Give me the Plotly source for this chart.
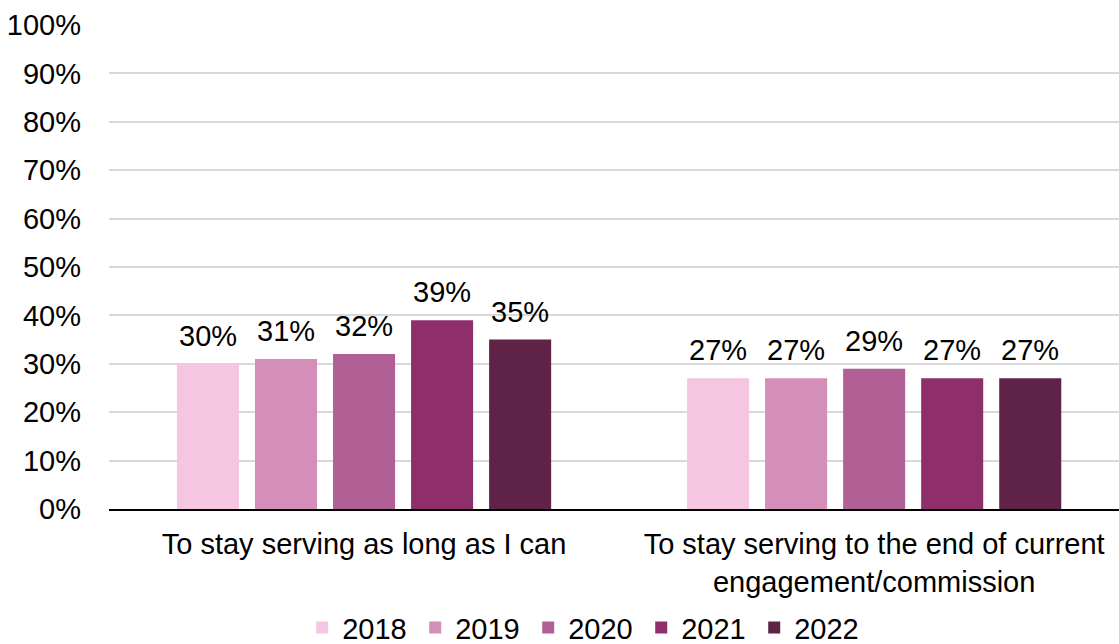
import plotly.graph_objects as go

categories = [
    "To stay serving as long as I can",
    "To stay serving to the end of current<br>engagement/commission",
]
years = ["2018", "2019", "2020", "2021", "2022"]
values = {
    "2018": [30, 27],
    "2019": [31, 27],
    "2020": [32, 29],
    "2021": [39, 27],
    "2022": [35, 27],
}
colors = ["#F5C6E2", "#D48FB8", "#B06094", "#8E2F6C", "#5E2347"]
y_ticks = list(range(0, 101, 10))

FONT = "Liberation Sans, Arial, sans-serif"
FS = 29

# grouped-bar geometry (pixels): slot pitch of one bar within a group
SLOT_PX = 78

fig = go.Figure()
for yr, col in zip(years, colors):
    fig.add_trace(go.Bar(
        name=yr,
        x=categories,
        y=values[yr],
        marker=dict(color=col, line=dict(width=0)),
        hoverinfo="x+y+name",
    ))

# value labels above each bar, lifted a little off the bar top
n = len(years)
for i, yr in enumerate(years):
    for cat, v in zip(categories, values[yr]):
        fig.add_annotation(
            x=cat, y=v, xref="x", yref="y",
            text=f"{v}%",
            showarrow=False,
            xanchor="center", yanchor="bottom",
            xshift=(i - (n - 1) / 2) * SLOT_PX,
            yshift=10,
            font=dict(family=FONT, size=FS, color="#000000"),
        )

fig.update_layout(
    width=1119,
    height=644,
    margin=dict(l=109, r=0, t=25, b=135, autoexpand=False),
    paper_bgcolor="white",
    plot_bgcolor="white",
    barmode="group",
    bargap=0.235,
    bargroupgap=0.205,
    font=dict(family=FONT, size=FS, color="#000000"),
    showlegend=True,
    legend=dict(
        orientation="h",
        x=0.471, xanchor="center",
        y=-0.245, yanchor="middle",
        font=dict(family=FONT, size=FS, color="#000000"),
        entrywidth=68,
        entrywidthmode="pixels",
        itemwidth=30,
        traceorder="normal",
    ),
    xaxis=dict(
        type="category",
        range=[-0.5, 1.48],
        automargin=False,
        showline=True,
        linecolor="#000000",
        linewidth=2,
        ticks="",
        ticklabelstandoff=8,
        tickfont=dict(family=FONT, size=FS, color="#000000"),
        showgrid=False,
    ),
    yaxis=dict(
        range=[0, 100],
        automargin=False,
        tickvals=y_ticks,
        ticktext=[f"{t}%" for t in y_ticks],
        showgrid=True,
        gridcolor="#D9D9D9",
        gridwidth=2,
        zeroline=False,
        showline=False,
        ticks="",
        ticklabelstandoff=27,
        tickfont=dict(family=FONT, size=FS, color="#000000"),
    ),
)

fig.write_html("out.html")
